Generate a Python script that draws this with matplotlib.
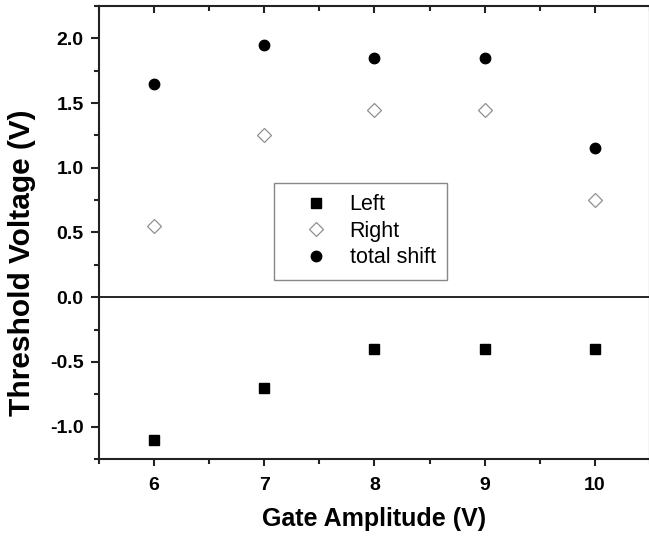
import matplotlib.pyplot as plt
from matplotlib.ticker import MultipleLocator

# --- data ---
gate_amp = [6, 7, 8, 9, 10]
left = [-1.1, -0.7, -0.4, -0.4, -0.4]
right = [0.55, 1.25, 1.45, 1.45, 0.75]
total_shift = [1.65, 1.95, 1.85, 1.85, 1.15]

plt.rcParams['font.family'] = ['Liberation Sans', 'DejaVu Sans']

fig = plt.figure(figsize=(6.49, 5.39), dpi=100)
ax = fig.add_axes([0.1525, 0.1484, 0.849, 0.8405])

ax.plot(gate_amp, left, 's', color='black', markersize=6.5, label='Left', linestyle='none')
ax.plot(gate_amp, right, 'D', markerfacecolor='white', markeredgecolor='#909090',
        markeredgewidth=0.9, markersize=7.5, label='Right', linestyle='none')
ax.plot(gate_amp, total_shift, 'o', color='black', markersize=7.5, label='total shift', linestyle='none')

ax.axhline(0, color='black', linewidth=1.2, zorder=0)

ax.set_xlim(5.5, 10.5)
ax.set_ylim(-1.25, 2.25)
ax.xaxis.set_major_locator(MultipleLocator(1))
ax.xaxis.set_minor_locator(MultipleLocator(0.5))
ax.yaxis.set_major_locator(MultipleLocator(0.5))
ax.yaxis.set_minor_locator(MultipleLocator(0.25))
ax.yaxis.set_major_formatter(lambda v, pos: f'{v:.1f}')

for s in ax.spines.values():
    s.set_linewidth(1.5)
    s.set_color('#222222')

ax.tick_params(which='both', top=True, right=True, width=1.5, color='#222222',
               labelsize=14)
ax.tick_params(axis='x', which='major', direction='out', length=5, pad=8)
ax.tick_params(axis='y', which='major', direction='out', length=6, pad=5)
ax.tick_params(which='minor', direction='out', length=3.5)
ax.tick_params(axis='x', which='both', labeltop=False)
ax.tick_params(axis='y', which='both', labelright=False)
# top / right ticks point inward
for t in ax.xaxis.get_major_ticks() + ax.xaxis.get_minor_ticks():
    t.tick2line.set_marker(3)
for t in ax.yaxis.get_major_ticks() + ax.yaxis.get_minor_ticks():
    t.tick2line.set_marker(1)
for lab in ax.get_xticklabels() + ax.get_yticklabels():
    lab.set_fontweight('bold')

ax.set_xlabel('Gate Amplitude (V)', fontsize=18, fontweight='bold', labelpad=9)
ax.set_ylabel('Threshold Voltage (V)', fontsize=21.5, fontweight='bold', labelpad=6)
ax.yaxis.set_label_coords(-0.115, 0.433)

leg = ax.legend(loc='lower left', bbox_to_anchor=(0.318, 0.395), fontsize=15.5,
                frameon=True, fancybox=False, edgecolor='#888888', framealpha=1,
                borderpad=0.55, labelspacing=0.25, handletextpad=0.15, borderaxespad=0,
                handlelength=2.8)
leg.get_frame().set_linewidth(1.0)

fig.savefig('out.png', dpi=100)
